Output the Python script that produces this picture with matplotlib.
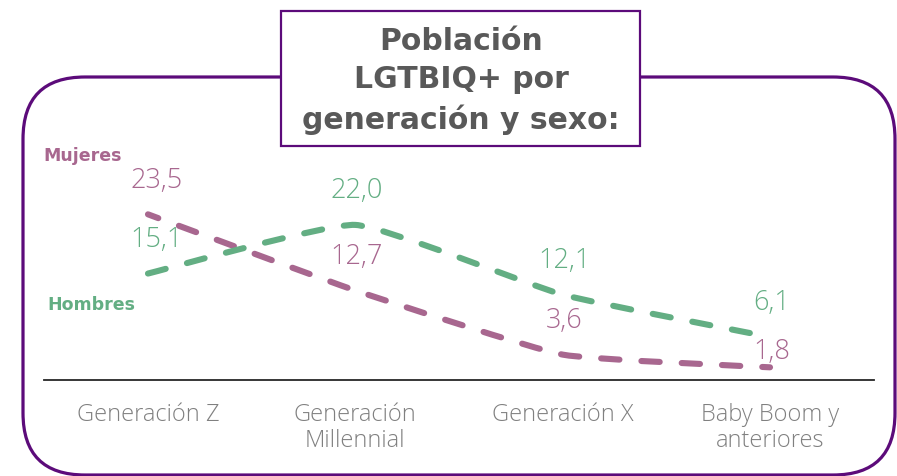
import matplotlib
matplotlib.use("Agg")
import matplotlib.pyplot as plt
import matplotlib.patches as patches
from matplotlib.path import Path
import numpy as np

categories = ["Generación Z", "Generación\nMillennial", "Generación X", "Baby Boom y\nanteriores"]
mujeres = [23.5, 12.7, 3.6, 1.8]
hombres = [15.1, 22.0, 12.1, 6.1]
title = "Población\nLGTBIQ+ por\ngeneración y sexo:"

MAUVE = "#A8678F"
GREEN = "#63AE83"
PURPLE = "#5C0B7A"
GRAY = "#808080"
TITLE_GRAY = "#595959"

W, H = 897, 477


def smooth_path(xs, ys, k=0.07):
    # cubic bezier through the points, light smoothing
    pts = np.column_stack([xs, ys]).astype(float)
    n = len(pts)
    verts = [pts[0]]
    codes = [Path.MOVETO]
    for i in range(n - 1):
        p0 = pts[max(i - 1, 0)]
        p1 = pts[i]
        p2 = pts[i + 1]
        p3 = pts[min(i + 2, n - 1)]
        c1 = p1 + (p2 - p0) * k
        c2 = p2 - (p3 - p1) * k
        verts += [c1, c2, p2]
        codes += [Path.CURVE4] * 3
    return Path(verts, codes)


fig = plt.figure(figsize=(W / 100, H / 100), dpi=100)

# background layer in pixel coords
bg = fig.add_axes([0, 0, 1, 1])
bg.set_xlim(0, W)
bg.set_ylim(H, 0)
bg.axis("off")

frame = patches.FancyBboxPatch((23, 78), 872, 398,
                               boxstyle="round,pad=0,rounding_size=62",
                               linewidth=2.3, edgecolor=PURPLE, facecolor="none")
bg.add_patch(frame)

title_box = patches.Rectangle((281, 12), 359, 135, linewidth=1.6,
                              edgecolor=PURPLE, facecolor="white", zorder=3)
bg.add_patch(title_box)
bg.text(461, 81, title, ha="center", va="center", fontsize=21.5, fontweight="bold",
        color=TITLE_GRAY, linespacing=1.42, zorder=4, family="DejaVu Sans")

bg.text(43, 156, "Mujeres", ha="left", va="center", fontsize=12.5,
        fontweight="bold", color=MAUVE)
bg.text(47, 305, "Hombres", ha="left", va="center", fontsize=12.5,
        fontweight="bold", color=GREEN)

# chart
ax = fig.add_axes([44.3 / W, 96 / H, (873.7 - 44.3) / W, 211.5 / H])
ax.patch.set_alpha(0)
ax.set_xlim(-0.5, 3.5)
ax.set_ylim(0, 30)
for s in ["top", "right", "left"]:
    ax.spines[s].set_visible(False)
ax.spines["bottom"].set_color("#262626")
ax.spines["bottom"].set_linewidth(1.3)
ax.set_yticks([])
ax.set_xticks(range(len(categories)))
ax.set_xticklabels(categories, fontsize=17, color=GRAY, family="Open Sans",
                   fontweight="light", linespacing=1.1)
ax.tick_params(axis="x", length=0, pad=16)

x = np.arange(len(categories))
for vals, col, off in [(mujeres, MAUVE, 1.2), (hombres, GREEN, 0)]:
    path = smooth_path(x, vals)
    patch = patches.PathPatch(path, facecolor="none", edgecolor=col, linewidth=4.4,
                              linestyle=(off, (3.0, 3.6)), capstyle="round",
                              transform=ax.transData, clip_on=False)
    ax.add_patch(patch)

label_offsets = {("m", 3): 12}
for key, vals, col in [("m", mujeres, MAUVE), ("h", hombres, GREEN)]:
    for i, v in enumerate(vals):
        dy = label_offsets.get((key, i), 25)
        dx = 6 if i == 0 else 1
        ax.annotate(f"{v:.1f}".replace(".", ","), (x[i], v), xytext=(dx, dy),
                    textcoords="offset points", ha="center", va="center",
                    fontsize=19.5, color=col, family="Open Sans", fontweight="light",
                    annotation_clip=False)

fig.savefig("out.png", dpi=100)
